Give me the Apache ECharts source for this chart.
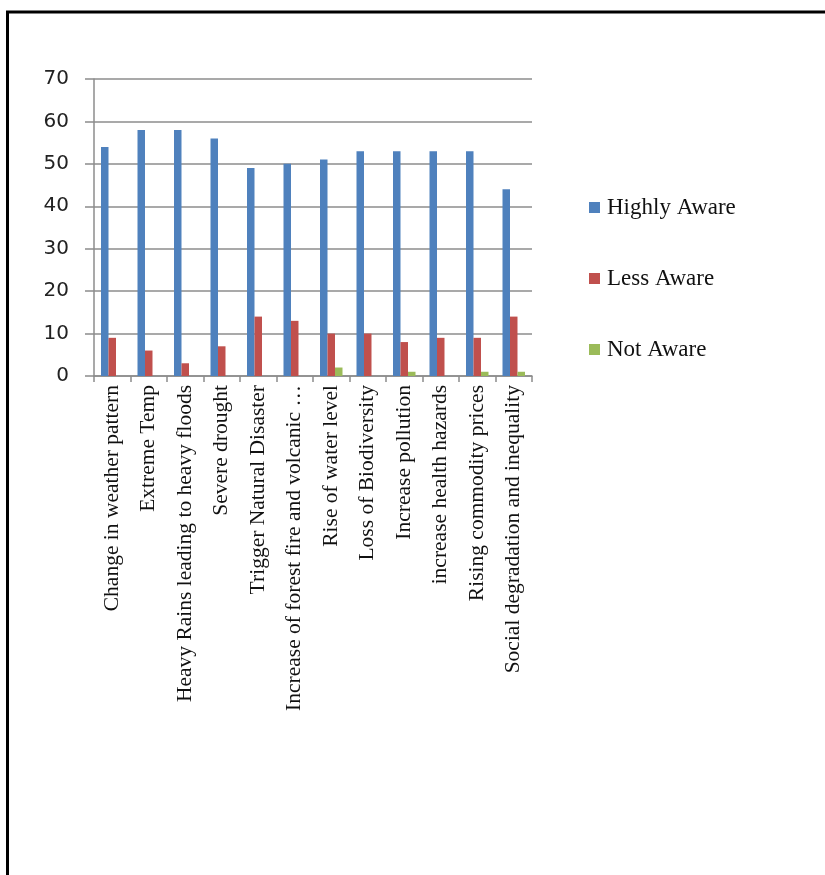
<!DOCTYPE html>
<html>
<head>
<meta charset="utf-8">
<script src="https://cdn.jsdelivr.net/npm/echarts@6/dist/echarts.min.js"></script>
<style>
  html, body { margin: 0; padding: 0; background: #fff; }
  #chart { width: 825px; height: 875px; }
</style>
</head>
<body>
<div id="chart"></div>
<script>
'use strict';

var categories = [
  'Change in weather pattern',
  'Extreme Temp',
  'Heavy Rains leading to heavy floods',
  'Severe drought',
  'Trigger Natural Disaster',
  'Increase of forest fire and volcanic …',
  'Rise of water level',
  'Loss of Biodiversity',
  'Increase pollution',
  'increase health hazards',
  'Rising commodity prices',
  'Social degradation and inequality'
];
var highlyAware = [54, 58, 58, 56, 49, 50, 51, 53, 53, 53, 53, 44];
var lessAware = [9, 6, 3, 7, 14, 13, 10, 10, 8, 9, 9, 14];
var notAware = [0, 0, 0, 0, 0, 0, 2, 0, 1, 0, 1, 1];

var seriesNames = ['Highly Aware', 'Less Aware', 'Not Aware'];
var seriesColors = ['#4F81BD', '#C0504D', '#9BBB59'];
var seriesData = [highlyAware, lessAware, notAware];

var axisGray = '#8c8c8c';

var chart = echarts.init(document.getElementById('chart'));

var option = {
  animation: false,
  graphic: [{
    type: 'polyline',
    shape: { points: [[7.5, 875], [7.5, 12], [825, 12]] },
    style: { stroke: '#000', lineWidth: 3, fill: null }
  }],
  legend: {
    orient: 'vertical',
    left: 584,
    top: 191,
    itemWidth: 11,
    itemHeight: 11,
    itemGap: 48,
    icon: 'rect',
    data: seriesNames,
    textStyle: {
      fontFamily: 'Liberation Serif',
      fontSize: 23,
      color: '#111',
      padding: [0, 0, 0, 2]
    }
  },
  grid: {
    left: 94,
    right: 293,
    top: 79,
    bottom: 499,
    containLabel: false
  },
  xAxis: {
    type: 'category',
    data: categories,
    axisLine: { lineStyle: { color: axisGray, width: 1.5 } },
    axisTick: { show: true, length: 6, alignWithLabel: false, lineStyle: { color: axisGray, width: 1.5 } },
    axisLabel: {
      interval: 0,
      rotate: 90,
      margin: 9,
      fontFamily: 'Liberation Serif',
      fontSize: 21.5,
      color: '#111'
    }
  },
  yAxis: {
    type: 'value',
    min: 0,
    max: 70,
    interval: 10,
    axisLine: { show: true, lineStyle: { color: axisGray, width: 1.5 } },
    axisTick: { show: true, length: 9, lineStyle: { color: axisGray, width: 1.5 } },
    splitLine: { lineStyle: { color: axisGray, width: 1.5 } },
    axisLabel: {
      margin: 25,
      fontFamily: 'DejaVu Sans',
      fontSize: 20,
      color: '#222'
    }
  },
  series: seriesNames.map(function (name, k) {
    return {
      type: 'bar',
      name: name,
      data: seriesData[k],
      barWidth: 7.5,
      barGap: '0%',
      itemStyle: { color: seriesColors[k] }
    };
  })
};

chart.setOption(option);
</script>
</body>
</html>
